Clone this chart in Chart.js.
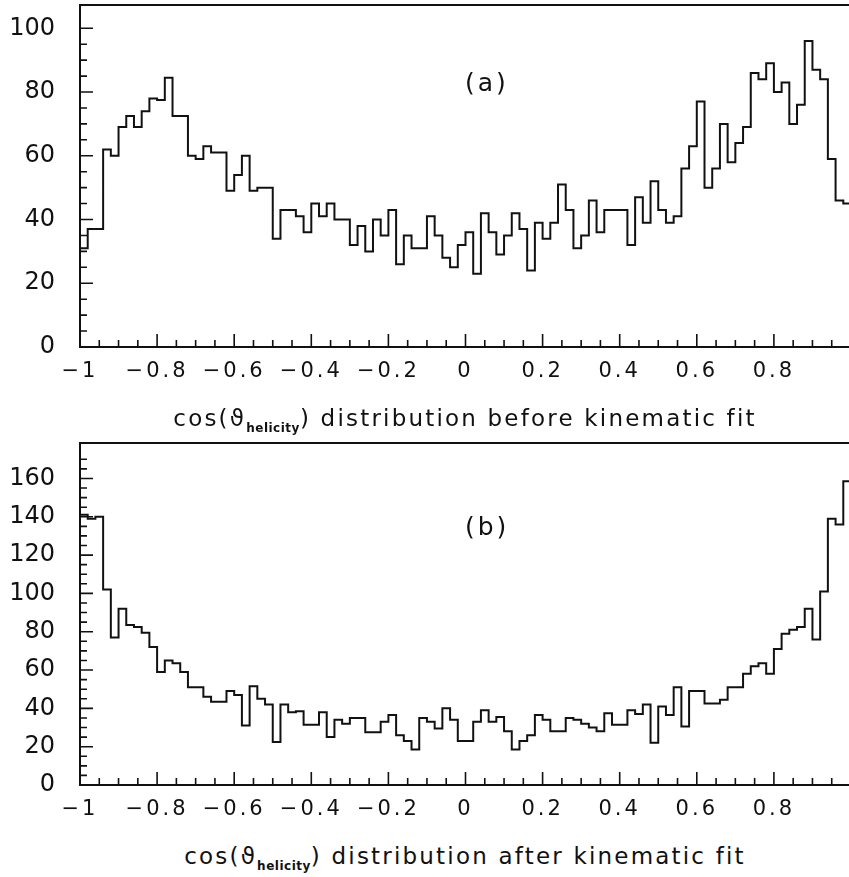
<!DOCTYPE html>
<html>
<head>
<meta charset="utf-8">
<title>cos(theta helicity) distributions</title>
<script src="https://cdn.jsdelivr.net/npm/chart.js@4.4.1/dist/chart.umd.min.js"></script>
<style>
  html, body { margin: 0; padding: 0; background: #fff; }
  body { position: relative; width: 849px; height: 877px; overflow: hidden; font-family: "DejaVu Sans", sans-serif; color: #111; }
  canvas { position: absolute; left: 0; }
  .axis-title { position: absolute; left: 0; width: 930px; text-align: center; font-size: 23px; letter-spacing: 2.2px; white-space: nowrap; line-height: 30px; }
  .axis-title .sub { font-size: 12px; letter-spacing: 0.5px; vertical-align: -6px; font-weight: bold; }
  .panel-tag { position: absolute; font-size: 25px; letter-spacing: 3px; line-height: 30px; }
</style>
</head>
<body>
<canvas id="chartA" width="880" height="390" style="top:0px"></canvas>
<canvas id="chartB" width="880" height="390" style="top:438px"></canvas>
<div class="axis-title" style="top:403px">cos(ϑ<span class="sub">helicity</span>) distribution before kinematic fit</div>
<div class="axis-title" style="top:841px">cos(ϑ<span class="sub">helicity</span>) distribution after kinematic fit</div>
<div class="panel-tag" style="left:465px;top:68px">(a)</div>
<div class="panel-tag" style="left:465px;top:512px">(b)</div>
<script>
// 100 bins of width 0.02 between -1 and 1
var binLow = -1;
var binWidth = 0.02;

// (a) before kinematic fit
var countsA = [31, 37, 37, 62, 60, 69, 72.5, 69, 74, 78,
  77.5, 84.5, 72.5, 72.5, 60, 59, 63, 61, 61, 49,
  54, 60, 49, 50, 50, 34, 43, 43, 41, 36,
  45, 41, 45, 40, 40, 32, 38, 30, 40, 35,
  43, 26, 35, 31, 31, 41, 35, 28, 25, 32,
  36, 23, 42, 36, 29, 35, 42, 37, 24, 39,
  34, 39, 51, 43, 31, 35, 46, 36, 43, 43,
  43, 32, 47, 39, 52, 43, 39, 41, 56, 63,
  77, 50, 56, 70, 58, 64, 69, 86, 84, 89,
  80, 83, 70, 76, 96, 87, 84, 59, 46, 45];

// (b) after kinematic fit
var countsB = [141, 139, 140, 102, 77, 92, 83.5, 82.5, 79.5, 72,
  59, 65, 63.5, 59, 51, 51, 46, 43.5, 43.5, 49,
  47, 31, 51.5, 45, 42, 22.5, 42, 38, 38.5, 31.5,
  31.5, 38, 25, 34, 32, 35, 35, 27.5, 27.5, 33,
  36.5, 26, 23, 18.5, 35, 33, 29.5, 40, 34, 23,
  23, 33, 39, 33, 35.5, 28, 18.5, 23, 26, 36.5,
  34, 28, 28, 35, 34, 32, 30, 28, 37.5, 31.5,
  31.5, 39, 37, 42, 22, 41, 36.5, 51, 30.5, 49,
  49, 42.5, 42.5, 44.5, 51, 51, 58, 62, 63.5, 58,
  71, 79, 81, 82.5, 92, 76, 101, 139, 136, 158.5];

var xLabelVals = [-1, -0.8, -0.6, -0.4, -0.2, 0, 0.2, 0.4, 0.6, 0.8];
var yLabelsA = [0, 20, 40, 60, 80, 100];
var yLabelsB = [0, 20, 40, 60, 80, 100, 120, 140, 160];

var FONT = '"DejaVu Sans", sans-serif';

function xLabel(v) {
  var t = xLabelVals.find(function (a) { return Math.abs(a - v) < 1e-6; });
  if (t === undefined) return '';
  if (t === 0) return '0';
  return (t < 0 ? '\u2212' : '') + String(Math.abs(t));
}

// frame + inward tick marks, like the old PAW plots
var frameTicks = {
  id: 'frameTicks',
  beforeDraw: function (chart) { chart.ctx.letterSpacing = '3px'; },
  beforeDatasetsDraw: function (chart) { chart.ctx.letterSpacing = '0px'; },
  afterDraw: function (chart) {
    var ctx = chart.ctx, a = chart.chartArea, x = chart.scales.x, y = chart.scales.y;
    ctx.save();
    ctx.strokeStyle = '#111';
    ctx.lineWidth = 2;
    ctx.strokeRect(a.left, a.top, a.right - a.left, a.bottom - a.top);
    ctx.lineWidth = 1.6;
    ctx.beginPath();
    x.ticks.forEach(function (t) {
      var k = Math.round(t.value * 100);
      if (k % 5 !== 0 || t.value <= x.min || t.value >= x.max) return;
      var len = k % 20 === 0 ? 13 : 7;
      var px = x.getPixelForValue(t.value);
      ctx.moveTo(px, a.bottom);
      ctx.lineTo(px, a.bottom - len);
    });
    y.ticks.forEach(function (t) {
      if (t.value % 5 !== 0 || t.value <= 0 || t.value >= y.max) return;
      var len = t.value % 20 === 0 ? 13 : 7;
      var py = y.getPixelForValue(t.value);
      ctx.moveTo(a.left, py);
      ctx.lineTo(a.left + len, py);
    });
    ctx.stroke();
    ctx.restore();
  }
};

function makeHist(id, counts, yMax, yLabels) {
  var points = counts.map(function (c, i) { return { x: binLow + i * binWidth, y: c }; });
  points.push({ x: binLow + counts.length * binWidth, y: counts[counts.length - 1] });

  return new Chart(document.getElementById(id), {
    type: 'line',
    data: {
      datasets: [{
        data: points,
        stepped: 'before',
        borderColor: '#111',
        borderWidth: 2,
        pointRadius: 0,
        fill: false
      }]
    },
    options: {
      responsive: false,
      animation: false,
      layout: { padding: { top: 5, right: 29, bottom: 0, left: 0 } },
      plugins: { legend: { display: false }, tooltip: { enabled: false } },
      scales: {
        x: {
          type: 'linear', min: -1, max: 1,
          afterFit: function (s) { s.height = 43; s.paddingLeft = 0; s.paddingRight = 0; },
          grid: { display: false, drawTicks: false },
          border: { display: false },
          ticks: {
            stepSize: 0.05, maxTicksLimit: 100, autoSkip: false, maxRotation: 0,
            padding: 12, color: '#111', font: { family: FONT, size: 21 },
            callback: xLabel
          }
        },
        y: {
          type: 'linear', min: 0, max: yMax,
          afterFit: function (s) { s.width = 80; s.paddingTop = 0; s.paddingBottom = 0; },
          grid: { display: false, drawTicks: false },
          border: { display: false },
          ticks: {
            stepSize: 5, maxTicksLimit: 100, autoSkip: false,
            padding: 25, z: 1, color: '#111', font: { family: FONT, size: 24 },
            callback: function (v) { return yLabels.indexOf(v) >= 0 ? String(v) : ''; }
          }
        }
      }
    },
    plugins: [frameTicks]
  });
}

var chartA = makeHist('chartA', countsA, 107.3, yLabelsA);
var chartB = makeHist('chartB', countsB, 178.5, yLabelsB);
</script>
</body>
</html>
